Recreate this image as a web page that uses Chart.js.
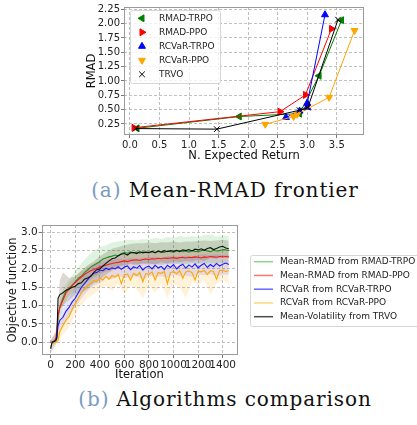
<!DOCTYPE html>
<html>
<head>
<meta charset="utf-8">
<script src="https://cdn.jsdelivr.net/npm/chart.js@4/dist/chart.umd.min.js"></script>
<style>
  html, body { margin: 0; padding: 0; background: #fff; width: 417px; height: 425px; overflow: hidden; }
  canvas { position: absolute; left: 0; }
  #frontier { top: 0; }
  #comparison { top: 215px; }
  .cap { position: absolute; left: 0; width: 450px; text-align: center; white-space: nowrap;
         font-family: 'DejaVu Serif', serif; font-size: 20px; letter-spacing: 0.9px; line-height: 22px; color: #111; }
  .cap span { color: #7b9bbf; }
</style>
</head>
<body>
<canvas id="frontier" width="417" height="165"></canvas>
<div class="cap" style="top:179px"><span>(a)</span> Mean-RMAD frontier</div>
<canvas id="comparison" width="417" height="170"></canvas>
<div class="cap" style="top:388px"><span>(b)</span> Algorithms comparison</div>

<script>
// (a) Mean-RMAD frontier: N. expected return vs RMAD
const rmadTrpoX  = [0.12, 1.85, 2.87, 3.20, 3.58];
const rmadTrpoY  = [0.175, 0.38, 0.43, 1.09, 2.06];
const rmadPpoX   = [0.07, 2.54, 2.97, 3.41];
const rmadPpoY   = [0.185, 0.465, 0.757, 1.91];
const rcvarTrpoX = [2.64, 2.87, 3.00, 3.00, 3.30];
const rcvarTrpoY = [0.365, 0.475, 0.54, 0.61, 2.155];
const rcvarPpoX  = [2.29, 2.77, 2.83, 3.37, 3.80];
const rcvarPpoY  = [0.245, 0.38, 0.42, 0.715, 1.88];
const trvoX      = [0.10, 1.47, 2.87, 3.01, 3.52];
const trvoY      = [0.17, 0.16, 0.49, 0.535, 2.07];

const frontierXTicks = [0, 0.5, 1, 1.5, 2, 2.5, 3, 3.5];
const frontierYTicks = [0.25, 0.5, 0.75, 1, 1.25, 1.5, 1.75, 2, 2.25];

// (b) Algorithms comparison: objective function per iteration
const iters = [0, 10, 25, 40, 50, 60, 75, 100, 125, 150, 175, 200, 225, 250, 275, 300, 325, 350, 375, 400,
  425, 450, 475, 500, 525, 550, 575, 600, 625, 650, 675, 700, 725, 750, 775, 800, 825, 850, 875, 900,
  925, 950, 975, 1000, 1025, 1050, 1075, 1100, 1125, 1150, 1175, 1200, 1225, 1250, 1275, 1300, 1325,
  1350, 1375, 1400, 1425, 1450];
const rmadTrpoMean = [0.0, 0.0, 0.02, 0.05, 0.15, 0.7, 0.95, 1.2, 1.4, 1.48, 1.55, 1.65, 1.75, 1.8, 1.9, 1.97,
  2.05, 2.1, 2.15, 2.2, 2.27, 2.3, 2.33, 2.35, 2.38, 2.36, 2.42, 2.45, 2.43, 2.47, 2.44, 2.46, 2.43, 2.47, 2.45,
  2.44, 2.47, 2.45, 2.48, 2.46, 2.45, 2.49, 2.47, 2.46, 2.49, 2.5, 2.47, 2.49, 2.46, 2.5, 2.48, 2.47, 2.5, 2.52,
  2.49, 2.47, 2.51, 2.49, 2.5, 2.53, 2.52, 2.5];
const rmadPpoMean = [0.0, -0.02, 0.02, 0.05, 0.3, 0.75, 0.95, 1.15, 1.35, 1.45, 1.55, 1.62, 1.7, 1.78, 1.85, 1.9,
  1.95, 1.98, 2.02, 2.05, 2.08, 2.1, 2.13, 2.15, 2.17, 2.18, 2.2, 2.22, 2.2, 2.23, 2.24, 2.25, 2.23, 2.26, 2.27,
  2.26, 2.28, 2.27, 2.29, 2.28, 2.3, 2.29, 2.3, 2.31, 2.29, 2.31, 2.32, 2.3, 2.32, 2.31, 2.33, 2.32, 2.3, 2.33,
  2.32, 2.34, 2.33, 2.32, 2.34, 2.33, 2.34, 2.33];
const rcvarTrpoMean = [0.0, 0.0, 0.02, 0.03, 0.15, 0.45, 0.6, 0.68, 0.85, 0.95, 1.1, 1.2, 1.35, 1.5, 1.6, 1.7,
  1.8, 1.88, 1.9, 1.97, 1.95, 2.02, 1.98, 2.03, 2.0, 2.06, 1.99, 2.05, 2.08, 1.98, 2.06, 2.02, 2.09, 1.97, 2.05,
  2.08, 2.0, 2.1, 2.03, 2.07, 1.98, 2.1, 2.04, 2.12, 2.0, 2.08, 2.13, 2.02, 2.11, 2.05, 2.14, 2.03, 2.1, 2.15,
  2.04, 2.12, 2.06, 2.15, 2.08, 2.13, 2.16, 2.12];
const rcvarPpoMean = [0.0, 0.0, -0.02, 0.0, 0.02, 0.05, 0.3, 0.45, 0.6, 0.7, 0.9, 1.05, 1.2, 1.35, 1.45, 1.55,
  1.6, 1.68, 1.65, 1.75, 1.7, 1.8, 1.72, 1.82, 1.78, 1.85, 1.6, 1.84, 1.86, 1.7, 1.88, 1.82, 1.9, 1.65, 1.88,
  1.85, 1.92, 1.7, 1.9, 1.88, 1.93, 1.6, 1.9, 1.93, 1.87, 1.95, 1.75, 1.92, 1.95, 1.9, 1.7, 1.94, 1.92, 1.96,
  1.85, 1.95, 1.93, 1.72, 1.95, 1.97, 1.93, 1.95];
const trvoMean = [-0.18, -0.02, 0.02, 0.05, 0.1, 1.2, 1.3, 1.35, 1.42, 1.45, 1.5, 1.53, 1.6, 1.62, 1.72, 1.75,
  1.8, 1.9, 1.98, 2.0, 2.08, 2.15, 2.22, 2.28, 2.3, 2.36, 2.4, 2.42, 2.38, 2.44, 2.45, 2.42, 2.47, 2.44, 2.46,
  2.45, 2.48, 2.44, 2.49, 2.46, 2.5, 2.47, 2.5, 2.48, 2.51, 2.47, 2.52, 2.5, 2.53, 2.49, 2.54, 2.52, 2.55, 2.51,
  2.56, 2.58, 2.53, 2.56, 2.6, 2.62, 2.57, 2.55];

// shaded spread, coarser grid
const bandIters = [0, 50, 75, 100, 150, 200, 250, 300, 350, 400, 450, 500, 550, 600, 650, 700, 750, 800, 850,
  900, 950, 1000, 1050, 1100, 1150, 1200, 1250, 1300, 1350, 1400, 1450];
const rmadTrpoLo = [-0.05, 0.0, 0.7, 0.95, 1.25, 1.4, 1.5, 1.65, 1.75, 1.85, 1.95, 2.0, 2.05, 2.1, 2.12, 2.1,
  2.14, 2.12, 2.15, 2.1, 2.15, 2.12, 2.15, 2.13, 2.16, 2.12, 2.15, 2.1, 2.14, 2.15, 2.12];
const rmadTrpoHi = [0.05, 0.3, 1.2, 1.45, 1.7, 1.95, 2.15, 2.35, 2.5, 2.6, 2.65, 2.72, 2.75, 2.78, 2.8, 2.78,
  2.82, 2.8, 2.85, 2.82, 2.87, 2.85, 2.9, 2.87, 2.9, 2.88, 2.92, 2.95, 2.88, 2.92, 2.9];
const rmadPpoLo = [-0.05, 0.1, 0.8, 1.0, 1.3, 1.45, 1.6, 1.72, 1.8, 1.88, 1.92, 1.97, 2.0, 2.05, 2.05, 2.08,
  2.08, 2.1, 2.1, 2.12, 2.12, 2.14, 2.13, 2.14, 2.15, 2.15, 2.16, 2.17, 2.15, 2.16, 2.16];
const rmadPpoHi = [0.05, 0.4, 1.1, 1.3, 1.6, 1.78, 1.95, 2.07, 2.15, 2.22, 2.27, 2.32, 2.35, 2.38, 2.4, 2.42,
  2.42, 2.43, 2.44, 2.45, 2.45, 2.47, 2.47, 2.46, 2.48, 2.48, 2.49, 2.5, 2.49, 2.5, 2.5];
const rcvarTrpoLo = [-0.05, 0.0, 0.35, 0.45, 0.7, 0.95, 1.2, 1.4, 1.55, 1.6, 1.75, 1.72, 1.8, 1.75, 1.78, 1.8,
  1.7, 1.82, 1.78, 1.8, 1.75, 1.85, 1.8, 1.82, 1.78, 1.85, 1.83, 1.86, 1.8, 1.85, 1.84];
const rcvarTrpoHi = [0.05, 0.3, 0.8, 0.95, 1.2, 1.5, 1.75, 1.95, 2.1, 2.18, 2.22, 2.25, 2.28, 2.27, 2.3, 2.28,
  2.3, 2.32, 2.33, 2.3, 2.35, 2.35, 2.33, 2.37, 2.35, 2.38, 2.4, 2.38, 2.4, 2.38, 2.4];
const rcvarPpoLo = [-0.1, -0.05, 0.05, 0.2, 0.4, 0.75, 1.0, 1.2, 1.3, 1.45, 1.55, 1.4, 1.6, 1.3, 1.55, 1.45,
  1.2, 1.55, 1.35, 1.6, 1.2, 1.6, 1.5, 1.2, 1.65, 1.55, 1.7, 1.3, 1.6, 1.7, 1.6];
const rcvarPpoHi = [0.05, 0.1, 0.55, 0.75, 1.0, 1.3, 1.6, 1.8, 1.9, 1.95, 2.0, 2.0, 2.03, 2.02, 2.05, 2.03,
  2.05, 2.05, 2.07, 2.06, 2.07, 2.08, 2.1, 2.08, 2.1, 2.1, 2.12, 2.1, 2.12, 2.12, 2.12];
const trvoLo = [-0.3, 0.0, 0.9, 1.0, 1.15, 1.3, 1.35, 1.45, 1.6, 1.7, 1.85, 1.95, 2.05, 2.1, 2.15, 2.12, 2.15,
  2.15, 2.12, 2.18, 2.15, 2.2, 2.18, 2.22, 2.2, 2.25, 2.22, 2.3, 2.28, 2.35, 2.3];
const trvoHi = [-0.05, 0.2, 1.7, 1.9, 1.75, 1.8, 1.95, 2.1, 2.2, 2.35, 2.45, 2.55, 2.6, 2.65, 2.68, 2.7, 2.7,
  2.72, 2.7, 2.73, 2.72, 2.75, 2.72, 2.75, 2.74, 2.76, 2.78, 2.76, 2.78, 2.8, 2.77];

const compXTicks = [0, 200, 400, 600, 800, 1000, 1200, 1400];
const compYTicks = [0, 0.5, 1, 1.5, 2, 2.5, 3];

Chart.defaults.font.family = '"DejaVu Sans", sans-serif';
Chart.defaults.color = '#222';

const pts = (xs, ys) => xs.map((x, i) => ({ x, y: ys[i] }));
const fixTicks = vals => scale => { scale.ticks = vals.map(value => ({ value })); };

// spines on all four sides
const framePlugin = {
  id: 'frame',
  afterDatasetsDraw(chart) {
    const { ctx, chartArea: a } = chart;
    ctx.save();
    ctx.strokeStyle = '#9a9a9a';
    ctx.lineWidth = 1;
    ctx.strokeRect(Math.round(a.left) + 0.5, Math.round(a.top) + 0.5, Math.round(a.width) - 1, Math.round(a.height) - 1);
    ctx.restore();
  }
};

// matplotlib-like legend box
const boxLegend = {
  id: 'boxLegend',
  afterDraw(chart, args, o) {
    const ctx = chart.ctx;
    const items = chart.data.datasets.filter(d => d.label);
    ctx.save();
    ctx.beginPath();
    if (ctx.roundRect) ctx.roundRect(o.x + 0.5, o.y + 0.5, o.w, o.h, 2);
    else ctx.rect(o.x + 0.5, o.y + 0.5, o.w, o.h);
    ctx.fillStyle = 'rgba(255,255,255,0.8)';
    ctx.fill();
    ctx.strokeStyle = '#d6d6d6';
    ctx.lineWidth = 1;
    ctx.stroke();
    ctx.font = o.size + 'px "DejaVu Sans"';
    ctx.textBaseline = 'middle';
    items.forEach((d, i) => {
      const y = o.y + o.first + i * o.row;
      if (o.lines) {
        ctx.strokeStyle = d.legendColor;
        ctx.lineWidth = 1.5;
        ctx.beginPath();
        ctx.moveTo(o.x + 4, y);
        ctx.lineTo(o.x + 23, y);
        ctx.stroke();
      } else {
        ctx.fillStyle = d.pointBackgroundColor;
        ctx.strokeStyle = d.pointBorderColor;
        ctx.lineWidth = 1;
        Chart.helpers.drawPoint(ctx, { pointStyle: d.pointStyle, rotation: d.pointRotation, radius: 4, borderWidth: 1 }, o.x + 12, y);
      }
      ctx.fillStyle = '#222';
      ctx.fillText(d.label, o.x + o.tx, y);
    });
    ctx.restore();
  }
};

function axis(min, max, ticks, fmt, size, title, box) {
  return {
    type: 'linear', min, max,
    afterBuildTicks: fixTicks(ticks),
    afterFit: box,
    ticks: { callback: fmt, font: { size }, padding: 1, autoSkip: false, maxRotation: 0, minRotation: 0, color: '#222' },
    grid: { color: '#b0b0b0', lineWidth: 0.8, borderDash: [3, 2], tickColor: '#555', tickLength: 3, tickWidth: 0.8, tickBorderDash: [] },
    border: { display: false, dash: [3, 2] },
    title: { display: true, text: title.text, font: { size: 11.5 }, color: '#111', padding: title.padding }
  };
}

// ---------- (a) frontier ----------
function frontierSeries(label, xs, ys, color, style, rot, order) {
  return {
    label, data: pts(xs, ys), showLine: true, order,
    borderColor: color, borderWidth: 1,
    pointStyle: style, pointRotation: rot, pointRadius: 4, pointHoverRadius: 4,
    pointBackgroundColor: color, pointBorderColor: color, pointBorderWidth: 1
  };
}

new Chart(document.getElementById('frontier'), {
  type: 'scatter',
  data: {
    datasets: [
      frontierSeries('RMAD-TRPO', rmadTrpoX, rmadTrpoY, '#008000', 'triangle', -90, 5),
      frontierSeries('RMAD-PPO', rmadPpoX, rmadPpoY, '#ff0000', 'triangle', 90, 4),
      frontierSeries('RCVaR-TRPO', rcvarTrpoX, rcvarTrpoY, '#0000ff', 'triangle', 0, 3),
      frontierSeries('RCVaR-PPO', rcvarPpoX, rcvarPpoY, '#ffa500', 'triangle', 180, 2),
      frontierSeries('TRVO', trvoX, trvoY, '#000000', 'crossRot', 0, 1)
    ]
  },
  options: {
    responsive: false, animation: false, devicePixelRatio: 1,
    layout: { padding: { left: 80, right: 53, top: 7, bottom: 0 } },
    plugins: {
      legend: { display: false }, tooltip: { enabled: false },
      boxLegend: { x: 130, y: 10, w: 90, h: 73, first: 8.3, row: 14, tx: 29, size: 9 }
    },
    scales: {
      x: axis(-0.1, 3.96, frontierXTicks, v => v.toFixed(1), 10,
        { text: 'N. Expected Return', padding: { top: 0, bottom: 2 } }, s => { s.height = 30; }),
      y: axis(0.058, 2.29, frontierYTicks, v => v.toFixed(2), 10,
        { text: 'RMAD', padding: { top: 5, bottom: 0 } }, s => { s.width = 44; })
    }
  },
  plugins: [framePlugin, boxLegend]
});

// ---------- (b) comparison ----------
function meanLine(label, ys, color, legendColor, order) {
  return { label, legendColor, data: pts(iters, ys), showLine: true, order,
    borderColor: color, borderWidth: 1.1, pointRadius: 0, fill: false };
}
function band(lo, hi, color) {
  return [
    { data: pts(bandIters, lo), showLine: true, order: 10, borderColor: 'transparent', borderWidth: 0, pointRadius: 0, fill: false },
    { data: pts(bandIters, hi), showLine: true, order: 10, borderColor: 'transparent', borderWidth: 0, pointRadius: 0, fill: '-1', backgroundColor: color }
  ];
}

new Chart(document.getElementById('comparison'), {
  type: 'scatter',
  data: {
    datasets: [
      meanLine('Mean-RMAD from RMAD-TRPO', rmadTrpoMean, '#1f8f1f', 'rgba(0,160,0,0.45)', 4),
      meanLine('Mean-RMAD from RMAD-PPO', rmadPpoMean, '#ff1a1a', 'rgba(255,0,0,0.55)', 3),
      meanLine('RCVaR from RCVaR-TRPO', rcvarTrpoMean, '#1a1aff', 'rgba(0,0,255,0.6)', 2),
      meanLine('RCVaR from RCVaR-PPO', rcvarPpoMean, '#ffa500', 'rgba(255,165,0,0.5)', 1),
      meanLine('Mean-Volatility from TRVO', trvoMean, '#111111', 'rgba(0,0,0,0.7)', 0),
      ...band(rmadTrpoLo, rmadTrpoHi, 'rgba(0,150,0,0.12)'),
      ...band(rmadPpoLo, rmadPpoHi, 'rgba(255,0,0,0.10)'),
      ...band(rcvarTrpoLo, rcvarTrpoHi, 'rgba(0,0,255,0.10)'),
      ...band(rcvarPpoLo, rcvarPpoHi, 'rgba(255,165,0,0.15)'),
      ...band(trvoLo, trvoHi, 'rgba(90,60,40,0.20)')
    ]
  },
  options: {
    responsive: false, animation: false, devicePixelRatio: 1,
    layout: { padding: { left: 0, right: 179.7, top: 10, bottom: 0 } },
    plugins: {
      legend: { display: false }, tooltip: { enabled: false },
      boxLegend: { x: 250, y: 40, w: 175, h: 71, first: 6.7, row: 13.75, tx: 30, size: 9, lines: true }
    },
    scales: {
      x: axis(-73, 1519, compXTicks, v => String(v), 10.5,
        { text: 'Iteration', padding: { top: 0, bottom: 3 } }, s => { s.height = 30; }),
      y: axis(-0.35, 3.2, compYTicks, v => v.toFixed(1), 10.5,
        { text: 'Objective function', padding: { top: 6, bottom: 0 } }, s => { s.width = 41.7; })
    }
  },
  plugins: [framePlugin, boxLegend]
});
</script>
</body>
</html>
